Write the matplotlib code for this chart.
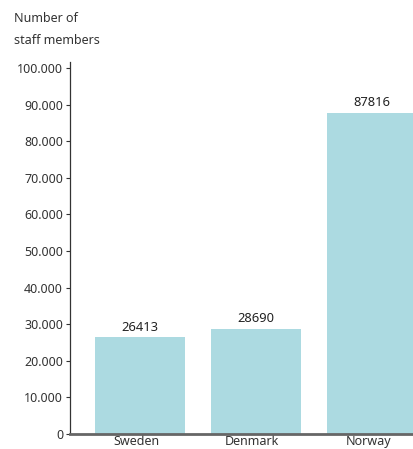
import matplotlib.pyplot as plt
import matplotlib.transforms as mtransforms
from matplotlib.ticker import FuncFormatter

countries = ["Sweden", "Denmark", "Norway"]
staff = [26413, 28690, 87816]
yticks = [0, 10000, 20000, 30000, 40000, 50000, 60000, 70000, 80000, 90000, 100000]

plt.rcParams['font.family'] = ['Noto Sans', 'DejaVu Sans']

fig = plt.figure(figsize=(4.14, 4.49), dpi=100)
ax = fig.add_axes([70 / 414, 15 / 449, 1 - 70 / 414, 372 / 449])

bar_col = '#acdae1'
xs = list(range(len(countries)))
bars = ax.bar(xs, staff, width=0.776, color=bar_col, zorder=2)

for x, v in zip(xs, staff):
    ax.text(x, v + 1000, str(v), ha='center', va='bottom', fontsize=9.3, color='#222222')

ax.set_xlim(-0.603, 2.36)
ax.set_ylim(0, 101640)
ax.set_yticks(yticks)
ax.yaxis.set_major_formatter(FuncFormatter(lambda v, p: f"{int(v):,}".replace(",", ".")))
ax.set_xticks(xs)
ax.set_xticklabels(countries)

ax.tick_params(axis='y', length=3, width=0.8, color='#333333', labelsize=9, labelcolor='#333333', pad=2)
ax.tick_params(axis='x', length=0, labelsize=9, labelcolor='#333333', pad=1)

# labels sit a little left of the bar centres in the original
shift = mtransforms.ScaledTranslation(-4 / 100, 0, fig.dpi_scale_trans)
for lbl in ax.get_xticklabels():
    lbl.set_transform(lbl.get_transform() + shift)

for s in ['top', 'right']:
    ax.spines[s].set_visible(False)
ax.spines['left'].set_color('#333333')
ax.spines['left'].set_linewidth(0.9)
ax.spines['bottom'].set_color('#666666')
ax.spines['bottom'].set_linewidth(2)

fig.text(14 / 414, 1 - 18 / 449, "Number of", ha='left', va='center', fontsize=9, color='#333333')
fig.text(14 / 414, 1 - 40 / 449, "staff members", ha='left', va='center', fontsize=9, color='#333333')

fig.savefig('out.png', dpi=100)
